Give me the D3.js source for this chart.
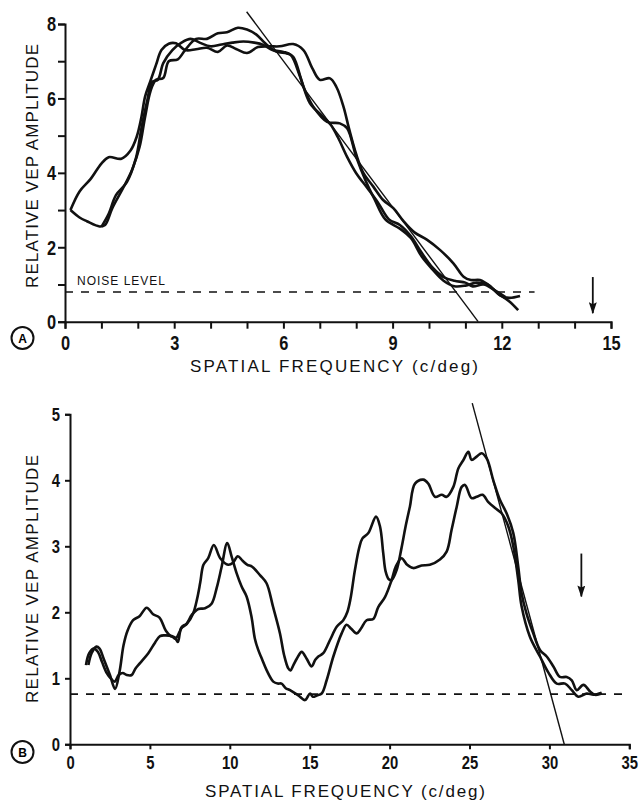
<!DOCTYPE html>
<html>
<head>
<meta charset="utf-8">
<script src="https://cdn.jsdelivr.net/npm/d3@7"></script>
<style>
	body { margin: 0; background: #fff; }
	svg { display: block; }
	.tick text { font-family: "Liberation Sans", Arial, sans-serif; font-weight: bold; fill: #111; }
	.title { font-family: "Liberation Sans", Arial, sans-serif; font-size: 17px; fill: #111; }
</style>
</head>
<body>
<svg id="chart" width="641" height="803"></svg>
<script>
// panel A: three runs
const curveA1 = [[0.15,3.0],[0.4,3.5],[0.7,3.83],[1.0,4.25],[1.2,4.42],[1.55,4.38],[1.8,4.6],[1.97,4.97],[2.1,5.5],[2.2,6.05],[2.34,6.45],[2.5,6.9],[2.65,7.3],[2.85,7.47],[3.05,7.48],[3.3,7.3],[3.6,7.32],[3.9,7.36],[4.2,7.25],[4.45,7.42],[4.7,7.33],[5.0,7.22],[5.3,7.38],[5.6,7.4],[5.9,7.4],[6.27,7.46],[6.55,7.3],[6.8,6.8],[7.0,6.5],[7.28,6.54],[7.46,6.3],[7.65,5.78],[7.8,5.2],[8.0,4.5],[8.2,3.99],[8.47,3.63],[8.74,3.27],[9.02,3.05],[9.3,2.7],[9.6,2.4],[9.95,2.2],[10.3,1.93],[10.67,1.57],[10.95,1.21],[11.15,1.12],[11.4,1.12],[11.7,0.94],[11.95,0.71],[12.2,0.64],[12.5,0.69]]
const curveA2 = [[0.15,3.0],[0.4,2.8],[0.6,2.7],[0.95,2.56],[1.1,2.6],[1.3,3.05],[1.6,3.6],[1.85,4.1],[2.05,4.7],[2.2,5.5],[2.35,6.2],[2.5,6.5],[2.7,6.55],[2.85,7.0],[3.1,7.05],[3.3,7.3],[3.6,7.6],[3.9,7.6],[4.2,7.75],[4.45,7.78],[4.75,7.9],[5.0,7.85],[5.25,7.72],[5.5,7.48],[5.8,7.26],[6.1,7.21],[6.27,7.12],[6.55,6.32],[6.82,5.78],[7.2,5.37],[7.55,5.33],[7.75,5.2],[8.0,4.43],[8.25,3.81],[8.5,3.3],[8.8,2.75],[9.2,2.5],[9.5,2.25],[9.8,1.75],[10.1,1.4],[10.4,1.1],[10.7,0.95],[11.0,0.97],[11.3,1.05],[11.6,1.0],[11.9,0.75],[12.2,0.55],[12.45,0.31]]
const curveA3 = [[1.0,2.55],[1.2,2.9],[1.4,3.4],[1.7,3.75],[1.95,4.4],[2.1,5.2],[2.25,5.9],[2.4,6.45],[2.55,6.5],[2.7,6.95],[2.95,7.3],[3.2,7.5],[3.45,7.6],[3.7,7.5],[4.0,7.4],[4.3,7.45],[4.6,7.5],[4.9,7.53],[5.2,7.5],[5.45,7.44],[5.7,7.3],[6.0,7.25],[6.2,7.17],[6.46,6.58],[6.73,5.87],[7.1,5.5],[7.3,5.29],[7.5,4.95],[7.75,4.43],[8.0,3.99],[8.3,3.6],[8.6,3.2],[8.9,2.75],[9.2,2.6],[9.5,2.3],[9.8,1.85],[10.1,1.45],[10.4,1.2],[10.7,1.1],[11.0,1.05],[11.2,0.95],[11.5,1.0],[11.8,0.85],[12.1,0.66]]
const fitA = [[4.99,8.33],[11.35,0]]
const noiseA = [[0,0.8],[12.9,0.8]]
const arrowA = [[14.5,1.2],[14.5,0.23]]
const ticksAx = [0,3,6,9,12,15]
const ticksAy = [0,2,4,6,8]

// panel B: two runs
const curveB1 = [[1.15,1.2],[1.35,1.38],[1.65,1.48],[1.85,1.45],[2.1,1.3],[2.5,1.05],[2.82,0.84],[3.1,1.1],[3.35,1.5],[3.6,1.72],[3.95,1.88],[4.35,1.94],[4.8,2.07],[5.2,1.97],[5.6,1.92],[6.0,1.72],[6.3,1.64],[6.55,1.62],[6.75,1.55],[6.95,1.75],[7.3,1.82],[7.7,1.98],[7.95,2.2],[8.15,2.45],[8.35,2.72],[8.65,2.82],[9.0,3.02],[9.4,2.82],[9.9,2.72],[10.2,2.75],[10.5,2.85],[10.8,2.78],[11.1,2.72],[11.4,2.69],[11.9,2.56],[12.3,2.44],[12.7,2.09],[13.14,1.68],[13.4,1.35],[13.66,1.15],[13.8,1.12],[13.98,1.2],[14.2,1.3],[14.5,1.4],[14.8,1.3],[15.12,1.18],[15.35,1.28],[15.54,1.33],[15.85,1.38],[16.27,1.58],[16.69,1.78],[17.1,1.88],[17.35,2.0],[17.55,2.2],[17.83,2.64],[18.1,2.98],[18.3,3.12],[18.67,3.2],[19.15,3.45],[19.4,3.3],[19.6,2.9],[19.75,2.62],[19.95,2.5],[20.13,2.49],[20.44,2.64],[20.75,2.98],[21.0,3.3],[21.27,3.6],[21.59,3.95],[22.11,4.01],[22.42,3.95],[22.84,3.75],[23.26,3.78],[23.57,3.75],[23.99,3.9],[24.3,4.18],[24.6,4.3],[24.93,4.43],[25.13,4.31],[25.45,4.36],[25.76,4.41],[26.08,4.33],[26.49,4.0],[26.91,3.7],[27.32,3.5],[27.74,3.2],[28.05,2.69],[28.26,2.29],[28.57,1.98],[28.99,1.68],[29.41,1.43],[29.83,1.33],[30.25,1.18],[30.66,1.02],[31.08,1.02],[31.4,0.97],[31.71,0.82],[32.13,0.9],[32.55,0.8],[32.86,0.75],[33.27,0.77]]
const curveB2 = [[1.0,1.2],[1.2,1.38],[1.5,1.45],[1.75,1.4],[2.0,1.25],[2.3,1.08],[2.55,1.0],[2.8,0.95],[3.05,1.05],[3.3,1.08],[3.55,1.05],[3.86,1.05],[4.1,1.15],[4.38,1.23],[4.9,1.38],[5.32,1.54],[5.63,1.64],[5.95,1.65],[6.36,1.64],[6.6,1.6],[6.85,1.7],[7.0,1.78],[7.3,1.83],[7.62,1.96],[8.03,2.05],[8.45,2.06],[8.86,2.13],[9.18,2.37],[9.49,2.69],[9.84,3.05],[10.12,2.84],[10.43,2.59],[10.74,2.39],[11.05,2.24],[11.36,1.93],[11.57,1.6],[11.78,1.43],[12.0,1.3],[12.31,1.12],[12.72,0.95],[13.0,0.92],[13.24,0.92],[13.5,0.85],[13.77,0.82],[14.29,0.74],[14.71,0.67],[15.02,0.77],[15.2,0.72],[15.45,0.74],[15.75,0.77],[16.06,0.97],[16.48,1.33],[17.0,1.68],[17.31,1.81],[17.6,1.75],[17.94,1.68],[18.2,1.75],[18.56,1.88],[18.98,1.9],[19.29,2.08],[19.71,2.23],[20.13,2.49],[20.4,2.7],[20.75,2.82],[21.1,2.72],[21.48,2.67],[22.0,2.71],[22.52,2.72],[23.15,2.8],[23.57,2.92],[23.88,3.25],[24.2,3.6],[24.51,3.9],[24.72,3.93],[25.13,3.73],[25.45,3.75],[25.82,3.78],[26.18,3.67],[26.6,3.58],[27.01,3.5],[27.43,3.3],[27.74,3.0],[28.05,2.49],[28.26,2.09],[28.78,1.63],[29.41,1.33],[29.93,1.09],[30.46,0.92],[30.98,0.92],[31.4,0.82],[31.81,0.72],[32.34,0.77],[32.76,0.75],[33.27,0.78]]
const fitB = [[25.17,5.17],[30.93,0]]
const noiseB = [[0,0.76],[35,0.76]]
const arrowB = [[32,2.89],[32,2.24]]
const ticksBx = [0,5,10,15,20,25,30,35]
const ticksBy = [0,1,2,3,4,5]

const yTitle = "RELATIVE VEP AMPLITUDE"
const xTitle = "SPATIAL FREQUENCY (c/deg)"

const svg = d3.select("#chart")

svg.append("defs").append("marker")
	.attr("id", "head")
	.attr("viewBox", "0 0 12 8")
	.attr("refX", 11).attr("refY", 4)
	.attr("markerWidth", 12).attr("markerHeight", 8)
	.attr("markerUnits", "userSpaceOnUse")
	.attr("orient", "auto")
	.append("path")
	.attr("d", "M0,0 L12,4 L0,8 L2,4 Z")
	.attr("fill", "#111")

function drawPanel(p) {
	const g = svg.append("g")
	const x = d3.scaleLinear().domain(p.xDomain).range(p.xRange)
	const y = d3.scaleLinear().domain(p.yDomain).range(p.yRange)
	const line = d3.line().x(d => x(d[0])).y(d => y(d[1]))
	const sx = p.squeeze

	const xAxis = g.append("g")
		.attr("transform", `translate(0,${p.yRange[0]})`)
		.call(d3.axisBottom(x).tickValues(p.xMinor).tickFormat(d => p.xTicks.includes(d) ? d : "")
			.tickSizeOuter(0).tickSize(p.tick).tickPadding(p.xPad))
	xAxis.selectAll(".tick text")
		.style("font-size", p.font + "px")
		.attr("transform", `scale(${sx},1)`)

	const yAxis = g.append("g")
		.attr("transform", `translate(${p.xRange[0]},0)`)
		.call(d3.axisLeft(y).tickValues(p.yMinor).tickFormat(d => p.yTicks.includes(d) ? d : "")
			.tickSizeOuter(0).tickSize(p.tick).tickPadding(p.yPad))
	yAxis.selectAll(".tick text")
		.style("font-size", p.font + "px")
		.attr("x", -(p.tick + p.yPad) / sx)
		.attr("transform", `scale(${sx},1)`)

	g.selectAll(".domain, .tick line").attr("stroke", "#111").attr("stroke-width", 2)

	g.append("path")
		.attr("d", line(p.noise))
		.attr("fill", "none").attr("stroke", "#111")
		.attr("stroke-width", 1.6).attr("stroke-dasharray", "8,8")

	g.selectAll(".run")
		.data(p.curves)
		.enter()
		.append("path")
		.attr("class", "run")
		.attr("d", d => d3.line().x(d => x(d[0])).y(d => y(d[1])).curve(d3.curveCatmullRom.alpha(0.5))(d))
		.attr("fill", "none").attr("stroke", "#111").attr("stroke-width", 2.6)
		.attr("stroke-linejoin", "round")

	g.append("path")
		.attr("d", line(p.fit))
		.attr("fill", "none").attr("stroke", "#111").attr("stroke-width", 1.4)

	g.append("path")
		.attr("d", line(p.arrow))
		.attr("fill", "none").attr("stroke", "#111").attr("stroke-width", 1.8)
		.attr("marker-end", "url(#head)")

	g.append("text")
		.attr("class", "title")
		.attr("transform", `translate(${p.yTitleX},${p.yTitleY}) rotate(-90)`)
		.attr("text-anchor", "middle")
		.attr("textLength", p.yTitleLen).attr("lengthAdjust", "spacing")
		.text(yTitle)
	g.append("text")
		.attr("class", "title")
		.attr("x", p.xTitleX).attr("y", p.xTitleY)
		.attr("text-anchor", "middle")
		.attr("textLength", p.xTitleLen).attr("lengthAdjust", "spacing")
		.text(xTitle)

	g.append("circle")
		.attr("cx", p.badge[0]).attr("cy", p.badge[1]).attr("r", 11)
		.attr("fill", "none").attr("stroke", "#111").attr("stroke-width", 2)
	g.append("text")
		.attr("x", p.badge[0]).attr("y", p.badge[1] + 4.5)
		.attr("text-anchor", "middle")
		.style("font-family", "Liberation Sans, Arial, sans-serif")
		.style("font-size", "12px").style("font-weight", "bold")
		.text(p.letter)

	if (p.noiseLabel) {
		g.append("text")
			.attr("x", x(0) + 12).attr("y", y(p.noise[0][1]) - 7)
			.attr("textLength", 88).attr("lengthAdjust", "spacing")
			.style("font-family", "Liberation Sans, Arial, sans-serif")
			.style("font-size", "12px").style("fill", "#111")
			.text(p.noiseLabel)
	}
}

drawPanel({
	xDomain: [0, 15], xRange: [65, 611],
	yDomain: [0, 8], yRange: [321.7, 24],
	xTicks: ticksAx, xMinor: d3.range(0, 16),
	yTicks: ticksAy, yMinor: d3.range(0, 9),
	tick: 7, xPad: 6, yPad: 2, font: 21, squeeze: 0.78,
	curves: [curveA1, curveA2, curveA3],
	fit: fitA, noise: noiseA, arrow: arrowA,
	noiseLabel: "NOISE LEVEL",
	yTitleX: 38, yTitleY: 166, yTitleLen: 244,
	xTitleX: 334, xTitleY: 372, xTitleLen: 288,
	badge: [22.5, 338], letter: "A"
})

drawPanel({
	xDomain: [0, 35], xRange: [70, 629.3],
	yDomain: [0, 5], yRange: [744.3, 414.3],
	xTicks: ticksBx, xMinor: ticksBx,
	yTicks: ticksBy, yMinor: ticksBy,
	tick: 5, xPad: 6, yPad: 5, font: 19, squeeze: 0.78,
	curves: [curveB1, curveB2],
	fit: fitB, noise: noiseB, arrow: arrowB,
	noiseLabel: null,
	yTitleX: 38, yTitleY: 579, yTitleLen: 248,
	xTitleX: 345, xTitleY: 797, xTitleLen: 280,
	badge: [22.5, 752], letter: "B"
})
</script>
</body>
</html>
